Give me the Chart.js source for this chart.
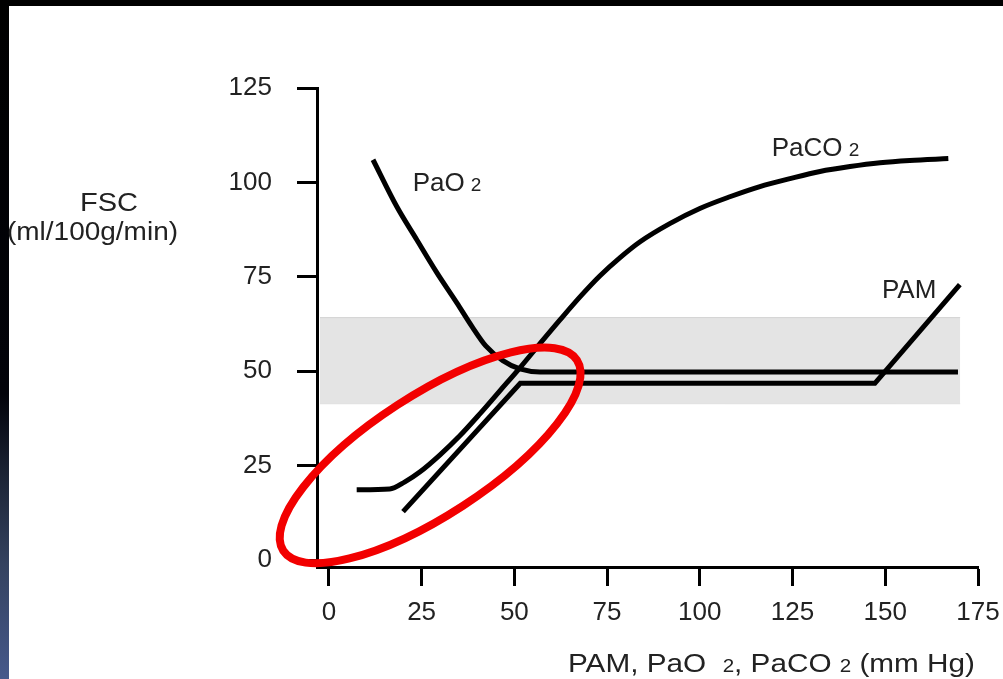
<!DOCTYPE html>
<html>
<head>
<meta charset="utf-8">
<title>FSC - PAM, PaO2, PaCO2</title>
<script src="https://cdn.jsdelivr.net/npm/chart.js@4.4.1/dist/chart.umd.min.js"></script>
<style>
  html, body { margin: 0; padding: 0; background: #fff; }
  #frame { position: relative; width: 1003px; height: 679px; overflow: hidden; background: #fff; }
  #topBar { position: absolute; left: 0; top: 0; width: 1003px; height: 6px; background: #000; }
  #leftBar { position: absolute; left: 0; top: 0; width: 9px; height: 679px;
    background: linear-gradient(to bottom, #000 0%, #02030a 58%, #1c2435 70%, #34425f 83%, #46598b 100%); }
  #chart { position: absolute; left: 0; top: 0; }
</style>
</head>
<body>
<div id="frame">
  <div id="topBar"></div>
  <div id="leftBar"></div>
  <canvas id="chart" width="1003" height="679"></canvas>
</div>
<script>
const FONT = '"Liberation Sans", Arial, Helvetica, sans-serif';

// axis ticks
const xTicks = [0, 25, 50, 75, 100, 125, 150, 175];
const yTicks = [0, 25, 50, 75, 100, 125];

// PaO2 curve
const pao2X = [11.9, 18.3, 23.7, 29.1, 34.5, 38.6, 42.3, 46.9, 51.5, 56.9, 169.6];
const pao2Y = [106.0, 93.6, 84.8, 76.1, 68.1, 61.8, 56.7, 52.8, 50.6, 49.8, 49.8];

// PaCO2 curve
const paco2X = [7.5, 16.4, 20.5, 24.5, 29.9, 35.3, 40.7, 46.1, 51.5, 56.9, 62.3, 67.7, 73.1,
                78.5, 83.9, 91.9, 100.0, 108.1, 116.2, 124.3, 132.4, 140.5, 148.6, 156.6, 167.0];
const paco2Y = [18.6, 18.8, 20.7, 23.3, 27.8, 32.9, 38.7, 44.8, 50.9, 57.3, 63.6, 69.7, 75.3,
                80.1, 84.3, 89.1, 93.1, 96.2, 98.9, 101.0, 102.9, 104.2, 105.2, 105.8, 106.3];

// PAM curve
const pamX = [20.0, 51.6, 147.2, 170.1];
const pamY = [12.8, 46.8, 46.8, 72.9];

// shaded normal range
const bandX = [-2.4, 170.2];
const bandTop = 64.2;
const bandBottom = 41.4;

// curve names
const curveNames = ['PaO', 'PaCO', 'PAM'];
const curveSubs = ['2', '2', ''];
const curveNameX = [22.6, 119.4, 149.1];
const curveNameY = [97.6, 107.1, 69.5];

// red ring around the low range (centre in data units, radii in x units)
const ringCenter = [27.3, 27.7];
const ringRadii = [47.2, 16.2];
const ringAngle = -33;

function pts(xs, ys) {
  return xs.map((v, i) => ({ x: v, y: ys[i] }));
}

// draws text pieces in a row, optionally stretched to a given width
function drawRich(ctx, parts, left, baseline, width) {
  let total = 0;
  const widths = parts.map(p => {
    ctx.font = p.size + 'px ' + FONT;
    const w = ctx.measureText(p.t).width;
    total += w;
    return w;
  });
  const sx = width ? width / total : 1;
  ctx.save();
  ctx.translate(left, baseline);
  ctx.scale(sx, 1);
  let cx = 0;
  parts.forEach((p, i) => {
    ctx.font = p.size + 'px ' + FONT;
    ctx.fillText(p.t, cx, 0);
    cx += widths[i];
  });
  ctx.restore();
}

const overlay = {
  id: 'overlay',
  afterDatasetsDraw(chart) {
    const { ctx, scales: { x, y }, chartArea } = chart;
    const unit = x.getPixelForValue(1) - x.getPixelForValue(0);

    ctx.save();
    ctx.strokeStyle = '#f20000';
    ctx.lineWidth = 8;
    ctx.beginPath();
    ctx.ellipse(x.getPixelForValue(ringCenter[0]), y.getPixelForValue(ringCenter[1]),
      ringRadii[0] * unit, ringRadii[1] * unit, ringAngle * Math.PI / 180, 0, Math.PI * 2);
    ctx.stroke();
    ctx.restore();

    ctx.save();
    ctx.fillStyle = '#222';
    ctx.textBaseline = 'alphabetic';
    curveNames.forEach((name, i) => {
      const parts = [{ t: name, size: 26 }];
      if (curveSubs[i]) {
        parts.push({ t: ' ', size: 22 });
        parts.push({ t: curveSubs[i], size: 19 });
      }
      drawRich(ctx, parts, x.getPixelForValue(curveNameX[i]), y.getPixelForValue(curveNameY[i]));
    });

    // y axis title
    drawRich(ctx, [{ t: 'FSC', size: 26 }], 80, 211, 58);
    drawRich(ctx, [{ t: '(ml/100g/min)', size: 26 }], 7, 240, 171);

    // x axis title
    drawRich(ctx, [
      { t: 'PAM, PaO', size: 26 },
      { t: '  ', size: 26 },
      { t: '2', size: 18 },
      { t: ', PaCO', size: 26 },
      { t: ' ', size: 26 },
      { t: '2', size: 18 },
      { t: ' (mm Hg)', size: 26 }
    ], chartArea.right - 410, 672, 407);
    ctx.restore();
  }
};

const curveStyle = {
  borderColor: '#000',
  borderWidth: 5,
  pointRadius: 0,
  fill: false,
  borderCapStyle: 'butt'
};

new Chart(document.getElementById('chart'), {
  type: 'line',
  data: {
    datasets: [
      { label: 'PaO2', data: pts(pao2X, pao2Y), ...curveStyle, cubicInterpolationMode: 'monotone', order: 1 },
      { label: 'PaCO2', data: pts(paco2X, paco2Y), ...curveStyle, cubicInterpolationMode: 'monotone', order: 1 },
      { label: 'PAM', data: pts(pamX, pamY), ...curveStyle, tension: 0, borderJoinStyle: 'miter', order: 1 },
      { label: 'band', data: pts(bandX, [bandTop, bandTop]), borderColor: '#d4d4d4', borderWidth: 1,
        backgroundColor: '#e4e4e4', fill: '+1', pointRadius: 0, order: 5 },
      { label: 'bandLow', data: pts(bandX, [bandBottom, bandBottom]), borderColor: '#d4d4d4', borderWidth: 1,
        pointRadius: 0, fill: false, order: 6 }
    ]
  },
  options: {
    responsive: false,
    animation: false,
    layout: { padding: { top: 88, right: 25, left: 0, bottom: 0 } },
    plugins: { legend: { display: false }, tooltip: { enabled: false } },
    scales: {
      x: {
        type: 'linear',
        min: -3.2,
        max: 175,
        afterBuildTicks: s => { s.ticks = xTicks.map(v => ({ value: v })); },
        afterFit: s => { s.height = 112; s.paddingLeft = 0; s.paddingRight = 0; },
        grid: { drawOnChartArea: false, drawTicks: true, tickLength: 19, tickColor: '#000', tickWidth: 3 },
        border: { display: true, color: '#000', width: 3 },
        ticks: { color: '#222', font: { family: FONT, size: 26 }, padding: 11, maxRotation: 0, autoSkip: false }
      },
      y: {
        type: 'linear',
        min: -1.85,
        max: 125,
        afterBuildTicks: s => { s.ticks = yTicks.map(v => ({ value: v })); },
        afterFit: s => { s.width = 317; s.paddingTop = 0; s.paddingBottom = 0; },
        grid: { drawOnChartArea: false, drawTicks: true, tickLength: 20, tickColor: '#000', tickWidth: 3 },
        border: { display: true, color: '#000', width: 3 },
        ticks: { color: '#222', font: { family: FONT, size: 26 }, padding: 25 }
      }
    }
  },
  plugins: [overlay]
});
</script>
</body>
</html>
